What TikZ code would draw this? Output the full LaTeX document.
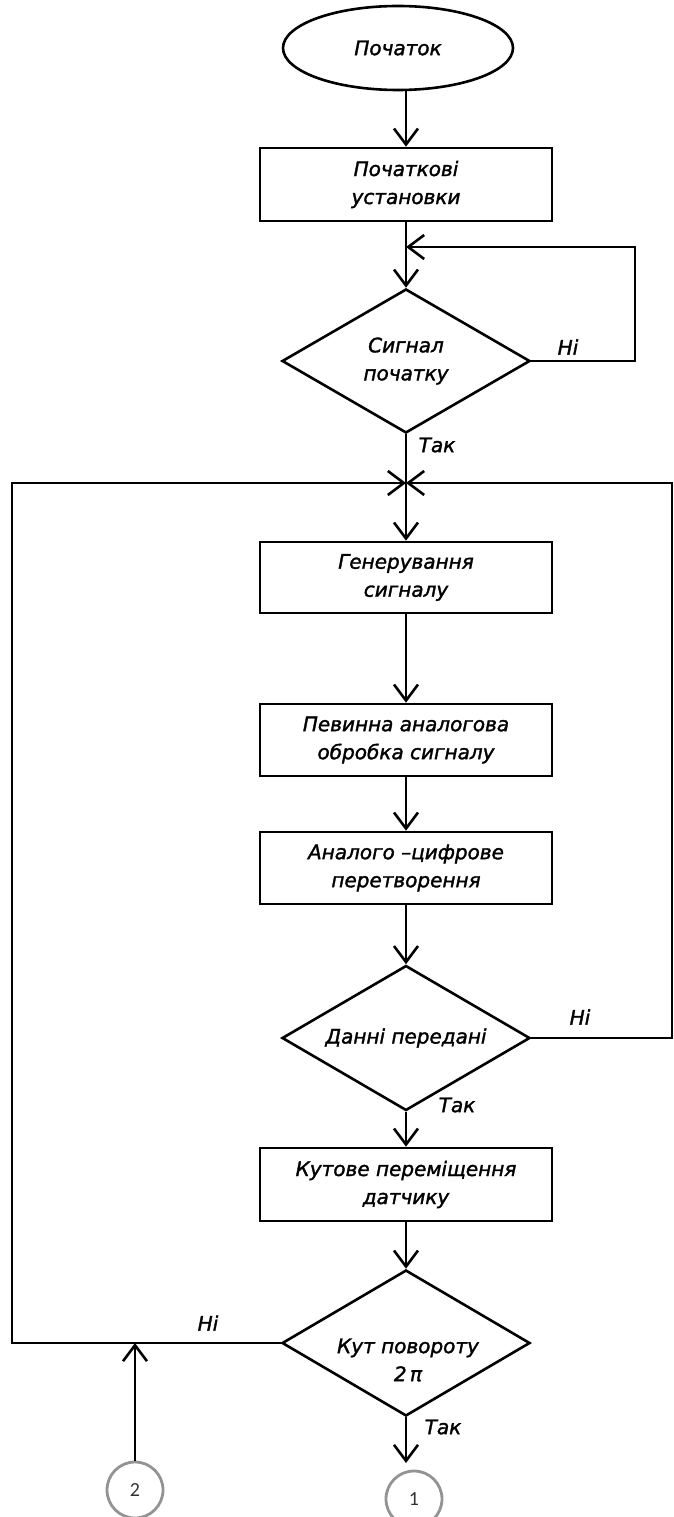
\documentclass[tikz,border=0pt]{standalone}
\usepackage{fontspec}
\setmainfont{DejaVu Sans}[ItalicFeatures={FakeBold=1.6}]
\newfontfamily\numfont{Carlito}
\usetikzlibrary{shapes.geometric,arrows.meta}
\begin{document}
\begin{tikzpicture}[x=1pt,y=-1pt, line width=2.6pt,
  every node/.style={font=\itshape\fontsize{20}{28}\selectfont},
  box/.style={draw, rectangle, minimum width=292pt, minimum height=72pt, align=center, inner sep=0pt},
  dec/.style={draw, diamond, minimum width=248pt, minimum height=145pt, shape aspect=1.71, inner sep=0pt, align=center},
  arr/.style={-{Straight Barb[length=16pt,width=24pt]}},
  lab/.style={inner sep=0pt},
  conn/.style={draw=gray!85, circle, minimum size=56pt, inner sep=0pt, line width=2.8pt, font=\numfont\fontsize{20}{22}\selectfont, text=black!80}]
\clip (0,0) rectangle (674,1517);
\useasboundingbox (0,0) rectangle (674,1517);
% nodes
\node[draw, ellipse, minimum width=230pt, minimum height=84pt, inner sep=0pt] (ell) at (398,48) {Початок};
\node[box, minimum height=73pt] (b1) at (406,184.5) {Початкові\\установки};
\node[dec, minimum height=144pt] (d1) at (406,361) {Сигнал\\початку};
\coordinate (j) at (406,483);
\node[box, minimum height=71pt] (b2) at (406,577.5) {Генерування\\сигналу};
\node[box] (b3) at (406,740) {Певинна аналогова\\обробка сигналу};
\node[box] (b4) at (406,868) {Аналого –цифрове\\перетворення};
\node[dec] (d2) at (406,1038) {Данні передані};
\node[box, minimum height=73pt] (b5) at (406,1184.5) {Кутове переміщення\\датчику};
\node[dec, minimum height=146pt] (d3) at (406,1343) {};
\node[lab, align=center] (d3t) at (408,1360) {Кут повороту\\2\,π};
\node[conn] (c2) at (135,1490) {2};
\node[conn] (c1) at (414,1499) {1};
\coordinate (c1in) at (406,1463);
\coordinate (l1) at (406,247);
\coordinate (r1) at (635,247);
\coordinate (ll) at (12,483);
\coordinate (rr) at (672,483);
% labels
\node[lab] (n1) at (568,347) {Ні};
\node[lab] (t1) at (437,445) {Так};
\node[lab] (n2) at (580,1017) {Ні};
\node[lab] (t2) at (457,1105) {Так};
\node[lab] (n3) at (208,1323) {Ні};
\node[lab] (t3) at (443,1427) {Так};
% connectors
\draw[arr] (ell.south -| b1.north) -- (b1.north);
\draw[arr] (b1.south) -- (d1.north);
\draw[arr] (d1.east) -| (r1) -- (l1);
\draw (d1.south) -- (j);
\draw[arr] (d3.west) -| (ll) -- (j);
\draw[arr] (d2.east) -| (rr) -- (j);
\draw[arr] (j) -- (b2.north);
\draw[arr] (b2.south) -- (b3.north);
\draw[arr] (b3.south) -- (b4.north);
\draw[arr] (b4.south) -- (d2.north);
\draw[arr] (d2.south) -- (b5.north);
\draw[arr] (b5.south) -- (d3.north);
\draw[arr] (d3.south) -- (c1in);
\draw[arr] (c2.north) -- (c2.north |- d3.west);
\end{tikzpicture}
\end{document}
